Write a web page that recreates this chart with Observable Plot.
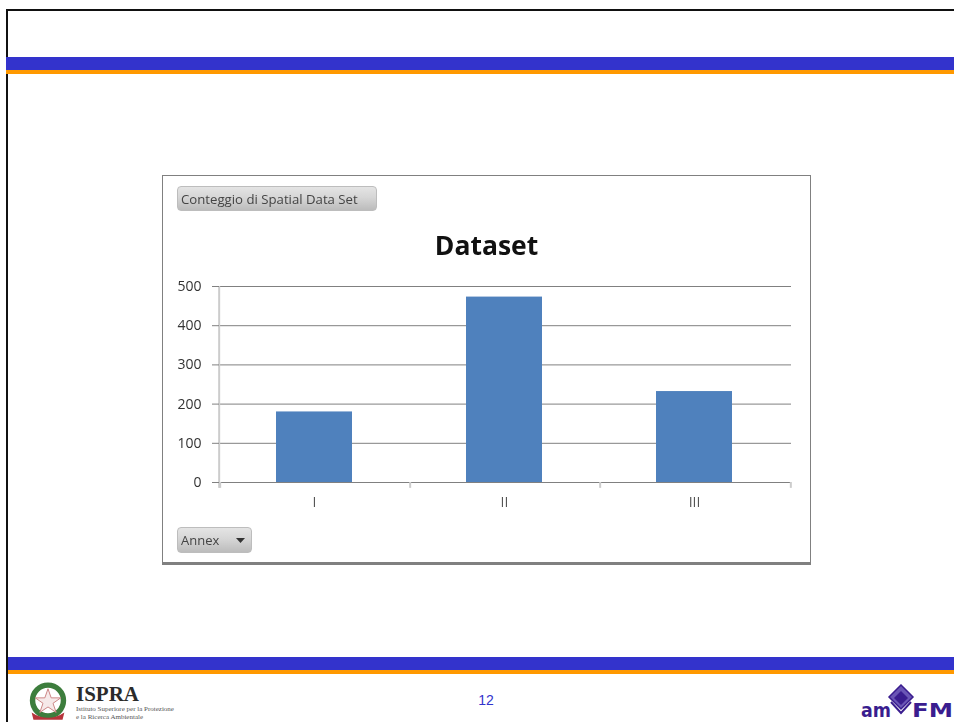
<!DOCTYPE html>
<html>
<head>
<meta charset="utf-8">
<script src="https://cdn.jsdelivr.net/npm/d3@7"></script>
<script src="https://cdn.jsdelivr.net/npm/@observablehq/plot@0.6"></script>
<style>
html,body{margin:0;padding:0;background:#fff;}
#slide{position:relative;width:954px;height:722px;overflow:hidden;background:#fff;}
.abs{position:absolute;}
.btn{position:absolute;box-sizing:border-box;border:1px solid #bdbdbd;border-radius:4px;background:linear-gradient(#e4e4e4,#d6d6d6 45%,#bcbcbc);color:#444;font-family:"Open Sans",sans-serif;white-space:nowrap;}
#panel{position:absolute;left:162px;top:175px;width:649px;height:390px;box-sizing:border-box;border:1px solid #808080;border-bottom:3px solid #808080;background:#fff;}
#chart{position:absolute;left:163px;top:176px;will-change:transform;}
#chart svg{display:block;overflow:visible;}
</style>
</head>
<body>
<div id="slide">
  <div class="abs" style="left:6px;top:9px;width:948px;height:2px;background:#111"></div>
  <div class="abs" style="left:6px;top:9px;width:2px;height:713px;background:#111"></div>
  <div class="abs" style="left:6px;top:57px;width:948px;height:13px;background:#3333cc"></div>
  <div class="abs" style="left:6px;top:70px;width:948px;height:4px;background:#ff9900"></div>
  <div class="abs" style="left:8px;top:657px;width:946px;height:13px;background:#3333cc"></div>
  <div class="abs" style="left:8px;top:670px;width:946px;height:4px;background:#ff9900"></div>

  <div id="panel"></div>
  <div id="chart"></div>

  <div class="abs" style="left:163px;width:647px;top:227px;text-align:center;font:700 26.500px 'Open Sans',sans-serif;color:#111;line-height:36px;">Dataset</div>
  <div class="btn" style="left:177px;top:186px;width:200px;height:25px;font-size:13.200px;line-height:25px;padding-left:3px;">Conteggio di Spatial Data Set</div>
  <div class="btn" style="left:177px;top:527px;width:75px;height:26px;font-size:13px;line-height:25px;padding-left:3px;">Annex
    <svg width="9" height="5" style="position:absolute;left:58px;top:10px"><path d="M0 0H9L4.500 5Z" fill="#333"/></svg>
  </div>

  <div class="abs" style="left:466px;width:40px;top:692px;text-align:center;font:14px 'Liberation Sans',sans-serif;color:#3333cc;">12</div>

  <svg class="abs" style="left:28px;top:681px" width="40" height="41" viewBox="0 0 44 42">
    <circle cx="22" cy="20" r="17" fill="none" stroke="#3d7d3d" stroke-width="6"/>
    <path d="M22 7L25.500 17H36L27.500 23L31 33L22 27L13 33L16.500 23L8 17H18.500Z" fill="#f6e9e9" stroke="#c77a7a"/>
    <path d="M4 33Q22 45 40 33L38 41H6Z" fill="#b5333a"/>
  </svg>
  <div class="abs" style="left:76px;top:684px;font:700 21px 'Liberation Serif',serif;color:#2b2b2b;line-height:20px;">ISPRA</div>
  <div class="abs" style="left:76px;top:705px;font:7px 'Liberation Serif',serif;color:#555;line-height:8px;white-space:nowrap;">Istituto Superiore per la Protezione<br>e la Ricerca Ambientale</div>

  <svg class="abs" style="left:860px;top:684px" width="94" height="38" viewBox="0 0 94 38">
    <path d="M41 1L53 13L41 25L29 13Z" fill="#6a55b5" stroke="#3a1d8f" stroke-width="1.500"/>
    <path d="M41 7L48 14L41 21L34 14Z" fill="#3a1d8f"/>
    <path d="M31 18L41 29L51 18" fill="none" stroke="#3a1d8f" stroke-width="2"/>
    <text x="1" y="33" font-family="DejaVu Sans" font-weight="700" font-size="20" fill="#3a1d8f" textLength="30" lengthAdjust="spacingAndGlyphs">am</text>
    <text x="52" y="33" font-family="DejaVu Sans" font-weight="700" font-size="20" fill="#3a1d8f" textLength="41" lengthAdjust="spacingAndGlyphs">FM</text>
  </svg>
</div>
<script>
const categories = ["I", "II", "III"];
const counts = [180, 473, 232];
const yTicks = [0, 100, 200, 300, 400, 500];
const rows = categories.map((c, i) => ({annex: c, count: counts[i]}));

const W = 647, H = 388, ML = 56, MR = 19, MT = 110, MB = 82;
const step = (W - ML - MR) / categories.length;
const tickBelow = -15;   // value units below zero: the ticks hang under the baseline

const chart = Plot.plot({
  width: W, height: H,
  marginLeft: ML, marginRight: MR, marginTop: MT, marginBottom: MB,
  style: {fontFamily: "'Open Sans',sans-serif", background: "transparent"},
  x: {domain: categories, paddingInner: 0.6, paddingOuter: 0.3, align: 0.5, label: null},
  y: {domain: [0, 500], label: null},
  marks: [
    Plot.ruleY(yTicks, {stroke: "#808080", strokeWidth: 1, strokeOpacity: 1}),
    Plot.barY(rows, {x: "annex", y: "count", fill: "#4f81bd", dx: -1}),
    Plot.ruleX(categories, {x: d => d, dx: -step / 2, y1: tickBelow, y2: 0, stroke: "#cccccc", strokeWidth: 2}),
    Plot.ruleX(categories.slice(-1), {x: d => d, dx: step / 2, y1: tickBelow, y2: 0, stroke: "#cccccc", strokeWidth: 2}),
    Plot.ruleX(categories.slice(0, 1), {x: d => d, dx: -step / 2 - 1, y1: tickBelow, y2: 500, stroke: "#cccccc", strokeWidth: 2}),
    Plot.axisY({ticks: yTicks, tickSize: 7, tickPadding: 11, fontSize: 14, stroke: "#808080", fill: "#333", label: null, tickFormat: d => String(d)}),
    Plot.axisX({tickSize: 0, tickPadding: 15, fontSize: 14, fill: "#555", label: null, dx: -1})
  ]
});
document.getElementById("chart").appendChild(chart);
</script>
</body>
</html>
